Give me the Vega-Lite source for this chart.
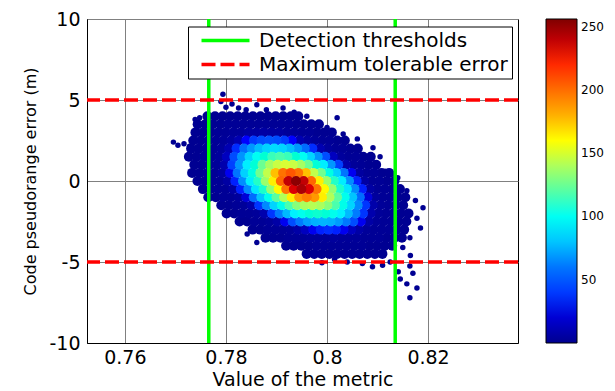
{
"$schema":"https://vega.github.io/schema/vega-lite/v6.json",
"width":431,"height":324,
"autosize":{"type":"none"},
"padding":{"left":87,"top":19,"right":97,"bottom":48},
"background":"white",
"config":{"font":"DejaVu Sans","view":{"stroke":"black","strokeWidth":1},
"axis":{"labelColor":"black","titleColor":"black","titleFontWeight":"normal","domainColor":"black","domainWidth":1,"ticks":false,"gridColor":"#808080","gridOpacity":1,"gridWidth":1,"zindex":1}},
"datasets":{
"outliers":[
{"x":0.7696,"y":2.4,"d":1},{"x":0.7705,"y":2.2,"d":1},{"x":0.7717,"y":2.3,"d":1},{"x":0.7728,"y":2.15,"d":1},{"x":0.7739,"y":3.8,"d":1},{"x":0.7745,"y":3.4,"d":1},{"x":0.7748,"y":3.9,"d":1},
{"x":0.7794,"y":5.35,"d":1},{"x":0.779,"y":4.9,"d":1},{"x":0.78,"y":4.55,"d":1},{"x":0.7812,"y":4.75,"d":1},{"x":0.7825,"y":4.5,"d":1},{"x":0.784,"y":4.4,"d":1},{"x":0.7861,"y":4.7,"d":1},{"x":0.788,"y":4.4,"d":1},{"x":0.7913,"y":4.5,"d":1},{"x":0.7935,"y":4.25,"d":1},{"x":0.796,"y":4.0,"d":1},
{"x":0.802,"y":3.9,"d":1},{"x":0.8,"y":3.3,"d":1},{"x":0.8032,"y":2.9,"d":1},{"x":0.806,"y":2.6,"d":1},{"x":0.8091,"y":2.05,"d":1},{"x":0.8105,"y":1.5,"d":1},{"x":0.8131,"y":0.43,"d":1},{"x":0.8115,"y":0.6,"d":1},{"x":0.814,"y":0.2,"d":1},{"x":0.8158,"y":-0.6,"d":1},{"x":0.8175,"y":-1.2,"d":1},{"x":0.819,"y":-1.65,"d":1},{"x":0.8178,"y":-2.3,"d":1},{"x":0.8185,"y":-2.9,"d":1},{"x":0.8164,"y":-3.5,"d":1},{"x":0.815,"y":-4.1,"d":1},{"x":0.8165,"y":-4.6,"d":1},
{"x":0.8164,"y":-5.25,"d":1},{"x":0.817,"y":-5.7,"d":1},{"x":0.8145,"y":-6.05,"d":1},{"x":0.8158,"y":-6.35,"d":1},{"x":0.8178,"y":-6.6,"d":1},{"x":0.8164,"y":-7.2,"d":1},{"x":0.8141,"y":-5.6,"d":1},
{"x":0.804,"y":-5.0,"d":1},{"x":0.807,"y":-5.1,"d":1},{"x":0.809,"y":-5.3,"d":1},{"x":0.811,"y":-5.2,"d":1},{"x":0.8125,"y":-5.0,"d":1},{"x":0.799,"y":-5.05,"d":1},{"x":0.8015,"y":-4.85,"d":1},
{"x":0.7861,"y":-3.8,"d":1},{"x":0.7842,"y":-3.27,"d":1},{"x":0.7881,"y":-3.3,"d":1},{"x":0.7921,"y":-3.7,"d":1},{"x":0.7941,"y":-3.75,"d":1},{"x":0.7812,"y":-1.55,"d":1},{"x":0.7835,"y":-2.3,"d":1},{"x":0.78,"y":-0.9,"d":1},{"x":0.7775,"y":-0.5,"d":1},{"x":0.777,"y":0.3,"d":1}
],
"cells":[
{"x":0.77633,"y":4,"d":1},{"x":0.77783,"y":4,"d":1},{"x":0.77933,"y":4,"d":1},{"x":0.78083,"y":4,"d":1},{"x":0.78233,"y":4,"d":1},{"x":0.78383,"y":4,"d":1},{"x":0.78533,"y":4,"d":1},{"x":0.78683,"y":4,"d":1},{"x":0.78833,"y":4,"d":1},{"x":0.78983,"y":4,"d":1},{"x":0.79133,"y":4,"d":1},{"x":0.79283,"y":4,"d":1},{"x":0.79433,"y":4,"d":1},
{"x":0.7744,"y":3.5,"d":1},{"x":0.7759,"y":3.5,"d":1},{"x":0.7774,"y":3.5,"d":1},{"x":0.7789,"y":3.5,"d":1},{"x":0.7804,"y":3.5,"d":2},{"x":0.7819,"y":3.5,"d":2},{"x":0.7834,"y":3.5,"d":2},{"x":0.7849,"y":3.5,"d":2},{"x":0.7864,"y":3.5,"d":2},{"x":0.7879,"y":3.5,"d":2},{"x":0.7894,"y":3.5,"d":2},{"x":0.7909,"y":3.5,"d":2},{"x":0.7924,"y":3.5,"d":2},{"x":0.7939,"y":3.5,"d":1},{"x":0.7954,"y":3.5,"d":1},{"x":0.7969,"y":3.5,"d":1},{"x":0.7984,"y":3.5,"d":1},
{"x":0.77396,"y":3,"d":1},{"x":0.77546,"y":3,"d":1},{"x":0.77696,"y":3,"d":1},{"x":0.77846,"y":3,"d":2},{"x":0.77996,"y":3,"d":2},{"x":0.78146,"y":3,"d":3},{"x":0.78296,"y":3,"d":3},{"x":0.78446,"y":3,"d":5},{"x":0.78596,"y":3,"d":5},{"x":0.78746,"y":3,"d":6},{"x":0.78896,"y":3,"d":5},{"x":0.79046,"y":3,"d":5},{"x":0.79196,"y":3,"d":3},{"x":0.79346,"y":3,"d":3},{"x":0.79496,"y":3,"d":2},{"x":0.79646,"y":3,"d":2},{"x":0.79796,"y":3,"d":1},{"x":0.79946,"y":3,"d":1},{"x":0.80096,"y":3,"d":1},
{"x":0.77353,"y":2.5,"d":1},{"x":0.77503,"y":2.5,"d":1},{"x":0.77653,"y":2.5,"d":2},{"x":0.77803,"y":2.5,"d":2},{"x":0.77953,"y":2.5,"d":3},{"x":0.78103,"y":2.5,"d":5},{"x":0.78253,"y":2.5,"d":10},{"x":0.78403,"y":2.5,"d":32},{"x":0.78553,"y":2.5,"d":40},{"x":0.78703,"y":2.5,"d":45},{"x":0.78853,"y":2.5,"d":47},{"x":0.79003,"y":2.5,"d":45},{"x":0.79153,"y":2.5,"d":40},{"x":0.79303,"y":2.5,"d":32},{"x":0.79453,"y":2.5,"d":10},{"x":0.79603,"y":2.5,"d":5},{"x":0.79753,"y":2.5,"d":3},{"x":0.79903,"y":2.5,"d":2},{"x":0.80053,"y":2.5,"d":2},{"x":0.80203,"y":2.5,"d":1},{"x":0.80353,"y":2.5,"d":1},
{"x":0.7731,"y":2,"d":1},{"x":0.7746,"y":2,"d":1},{"x":0.7761,"y":2,"d":2},{"x":0.7776,"y":2,"d":2},{"x":0.7791,"y":2,"d":4},{"x":0.7806,"y":2,"d":10},{"x":0.7821,"y":2,"d":37},{"x":0.7836,"y":2,"d":56},{"x":0.7851,"y":2,"d":69},{"x":0.7866,"y":2,"d":78},{"x":0.7881,"y":2,"d":84},{"x":0.7896,"y":2,"d":86},{"x":0.7911,"y":2,"d":84},{"x":0.7926,"y":2,"d":78},{"x":0.7941,"y":2,"d":69},{"x":0.7956,"y":2,"d":56},{"x":0.7971,"y":2,"d":37},{"x":0.7986,"y":2,"d":10},{"x":0.8001,"y":2,"d":4},{"x":0.8016,"y":2,"d":2},{"x":0.8031,"y":2,"d":2},{"x":0.8046,"y":2,"d":1},{"x":0.8061,"y":2,"d":1},
{"x":0.77266,"y":1.5,"d":1},{"x":0.77416,"y":1.5,"d":1},{"x":0.77566,"y":1.5,"d":2},{"x":0.77716,"y":1.5,"d":2},{"x":0.77866,"y":1.5,"d":4},{"x":0.78016,"y":1.5,"d":14},{"x":0.78166,"y":1.5,"d":45},{"x":0.78316,"y":1.5,"d":68},{"x":0.78466,"y":1.5,"d":84},{"x":0.78616,"y":1.5,"d":100},{"x":0.78766,"y":1.5,"d":109},{"x":0.78916,"y":1.5,"d":115},{"x":0.79066,"y":1.5,"d":118},{"x":0.79216,"y":1.5,"d":115},{"x":0.79366,"y":1.5,"d":109},{"x":0.79516,"y":1.5,"d":100},{"x":0.79666,"y":1.5,"d":84},{"x":0.79816,"y":1.5,"d":68},{"x":0.79966,"y":1.5,"d":45},{"x":0.80116,"y":1.5,"d":14},{"x":0.80266,"y":1.5,"d":4},{"x":0.80416,"y":1.5,"d":2},{"x":0.80566,"y":1.5,"d":2},{"x":0.80716,"y":1.5,"d":1},{"x":0.80866,"y":1.5,"d":1},
{"x":0.77373,"y":1,"d":1},{"x":0.77523,"y":1,"d":1},{"x":0.77673,"y":1,"d":2},{"x":0.77823,"y":1,"d":3},{"x":0.77973,"y":1,"d":9},{"x":0.78123,"y":1,"d":42},{"x":0.78273,"y":1,"d":69},{"x":0.78423,"y":1,"d":91},{"x":0.78573,"y":1,"d":108},{"x":0.78723,"y":1,"d":124},{"x":0.78873,"y":1,"d":138},{"x":0.79023,"y":1,"d":147},{"x":0.79173,"y":1,"d":151},{"x":0.79323,"y":1,"d":147},{"x":0.79473,"y":1,"d":138},{"x":0.79623,"y":1,"d":124},{"x":0.79773,"y":1,"d":108},{"x":0.79923,"y":1,"d":91},{"x":0.80073,"y":1,"d":69},{"x":0.80223,"y":1,"d":42},{"x":0.80373,"y":1,"d":9},{"x":0.80523,"y":1,"d":3},{"x":0.80673,"y":1,"d":2},{"x":0.80823,"y":1,"d":1},{"x":0.80973,"y":1,"d":1},
{"x":0.7733,"y":0.5,"d":1},{"x":0.7748,"y":0.5,"d":1},{"x":0.7763,"y":0.5,"d":2},{"x":0.7778,"y":0.5,"d":2},{"x":0.7793,"y":0.5,"d":5},{"x":0.7808,"y":0.5,"d":28},{"x":0.7823,"y":0.5,"d":59},{"x":0.7838,"y":0.5,"d":83},{"x":0.7853,"y":0.5,"d":105},{"x":0.7868,"y":0.5,"d":125},{"x":0.7883,"y":0.5,"d":145},{"x":0.7898,"y":0.5,"d":176},{"x":0.7913,"y":0.5,"d":198},{"x":0.7928,"y":0.5,"d":209},{"x":0.7943,"y":0.5,"d":198},{"x":0.7958,"y":0.5,"d":176},{"x":0.7973,"y":0.5,"d":145},{"x":0.7988,"y":0.5,"d":125},{"x":0.8003,"y":0.5,"d":105},{"x":0.8018,"y":0.5,"d":83},{"x":0.8033,"y":0.5,"d":59},{"x":0.8048,"y":0.5,"d":28},{"x":0.8063,"y":0.5,"d":5},{"x":0.8078,"y":0.5,"d":2},{"x":0.8093,"y":0.5,"d":2},{"x":0.8108,"y":0.5,"d":1},{"x":0.8123,"y":0.5,"d":1},
{"x":0.77436,"y":0,"d":1},{"x":0.77586,"y":0,"d":1},{"x":0.77736,"y":0,"d":2},{"x":0.77886,"y":0,"d":2},{"x":0.78036,"y":0,"d":6},{"x":0.78186,"y":0,"d":35},{"x":0.78336,"y":0,"d":67},{"x":0.78486,"y":0,"d":91},{"x":0.78636,"y":0,"d":112},{"x":0.78786,"y":0,"d":135},{"x":0.78936,"y":0,"d":164},{"x":0.79086,"y":0,"d":203},{"x":0.79236,"y":0,"d":239},{"x":0.79386,"y":0,"d":253},{"x":0.79536,"y":0,"d":239},{"x":0.79686,"y":0,"d":203},{"x":0.79836,"y":0,"d":164},{"x":0.79986,"y":0,"d":135},{"x":0.80136,"y":0,"d":112},{"x":0.80286,"y":0,"d":91},{"x":0.80436,"y":0,"d":67},{"x":0.80586,"y":0,"d":35},{"x":0.80736,"y":0,"d":6},{"x":0.80886,"y":0,"d":2},{"x":0.81036,"y":0,"d":2},{"x":0.81186,"y":0,"d":1},{"x":0.81336,"y":0,"d":1},
{"x":0.77543,"y":-0.5,"d":1},{"x":0.77693,"y":-0.5,"d":1},{"x":0.77843,"y":-0.5,"d":2},{"x":0.77993,"y":-0.5,"d":2},{"x":0.78143,"y":-0.5,"d":6},{"x":0.78293,"y":-0.5,"d":35},{"x":0.78443,"y":-0.5,"d":66},{"x":0.78593,"y":-0.5,"d":89},{"x":0.78743,"y":-0.5,"d":111},{"x":0.78893,"y":-0.5,"d":133},{"x":0.79043,"y":-0.5,"d":161},{"x":0.79193,"y":-0.5,"d":198},{"x":0.79343,"y":-0.5,"d":233},{"x":0.79493,"y":-0.5,"d":245},{"x":0.79643,"y":-0.5,"d":233},{"x":0.79793,"y":-0.5,"d":198},{"x":0.79943,"y":-0.5,"d":161},{"x":0.80093,"y":-0.5,"d":133},{"x":0.80243,"y":-0.5,"d":111},{"x":0.80393,"y":-0.5,"d":89},{"x":0.80543,"y":-0.5,"d":66},{"x":0.80693,"y":-0.5,"d":35},{"x":0.80843,"y":-0.5,"d":6},{"x":0.80993,"y":-0.5,"d":2},{"x":0.81143,"y":-0.5,"d":2},{"x":0.81293,"y":-0.5,"d":1},{"x":0.81443,"y":-0.5,"d":1},
{"x":0.7765,"y":-1,"d":1},{"x":0.778,"y":-1,"d":1},{"x":0.7795,"y":-1,"d":2},{"x":0.781,"y":-1,"d":2},{"x":0.7825,"y":-1,"d":4},{"x":0.784,"y":-1,"d":21},{"x":0.7855,"y":-1,"d":56},{"x":0.787,"y":-1,"d":80},{"x":0.7885,"y":-1,"d":102},{"x":0.79,"y":-1,"d":121},{"x":0.7915,"y":-1,"d":141},{"x":0.793,"y":-1,"d":164},{"x":0.7945,"y":-1,"d":186},{"x":0.796,"y":-1,"d":193},{"x":0.7975,"y":-1,"d":186},{"x":0.799,"y":-1,"d":164},{"x":0.8005,"y":-1,"d":141},{"x":0.802,"y":-1,"d":121},{"x":0.8035,"y":-1,"d":102},{"x":0.805,"y":-1,"d":80},{"x":0.8065,"y":-1,"d":56},{"x":0.808,"y":-1,"d":21},{"x":0.8095,"y":-1,"d":4},{"x":0.811,"y":-1,"d":2},{"x":0.8125,"y":-1,"d":2},{"x":0.814,"y":-1,"d":1},{"x":0.8155,"y":-1,"d":1},
{"x":0.77907,"y":-1.5,"d":1},{"x":0.78057,"y":-1.5,"d":1},{"x":0.78207,"y":-1.5,"d":2},{"x":0.78357,"y":-1.5,"d":3},{"x":0.78507,"y":-1.5,"d":8},{"x":0.78657,"y":-1.5,"d":39},{"x":0.78807,"y":-1.5,"d":66},{"x":0.78957,"y":-1.5,"d":84},{"x":0.79107,"y":-1.5,"d":103},{"x":0.79257,"y":-1.5,"d":118},{"x":0.79407,"y":-1.5,"d":130},{"x":0.79557,"y":-1.5,"d":139},{"x":0.79707,"y":-1.5,"d":142},{"x":0.79857,"y":-1.5,"d":139},{"x":0.80007,"y":-1.5,"d":130},{"x":0.80157,"y":-1.5,"d":118},{"x":0.80307,"y":-1.5,"d":103},{"x":0.80457,"y":-1.5,"d":84},{"x":0.80607,"y":-1.5,"d":66},{"x":0.80757,"y":-1.5,"d":39},{"x":0.80907,"y":-1.5,"d":8},{"x":0.81057,"y":-1.5,"d":3},{"x":0.81207,"y":-1.5,"d":2},{"x":0.81357,"y":-1.5,"d":1},{"x":0.81507,"y":-1.5,"d":1},
{"x":0.78013,"y":-2,"d":1},{"x":0.78163,"y":-2,"d":1},{"x":0.78313,"y":-2,"d":2},{"x":0.78463,"y":-2,"d":2},{"x":0.78613,"y":-2,"d":3},{"x":0.78763,"y":-2,"d":9},{"x":0.78913,"y":-2,"d":39},{"x":0.79063,"y":-2,"d":62},{"x":0.79213,"y":-2,"d":77},{"x":0.79363,"y":-2,"d":92},{"x":0.79513,"y":-2,"d":102},{"x":0.79663,"y":-2,"d":108},{"x":0.79813,"y":-2,"d":110},{"x":0.79963,"y":-2,"d":108},{"x":0.80113,"y":-2,"d":102},{"x":0.80263,"y":-2,"d":92},{"x":0.80413,"y":-2,"d":77},{"x":0.80563,"y":-2,"d":62},{"x":0.80713,"y":-2,"d":39},{"x":0.80863,"y":-2,"d":9},{"x":0.81013,"y":-2,"d":3},{"x":0.81163,"y":-2,"d":2},{"x":0.81313,"y":-2,"d":2},{"x":0.81463,"y":-2,"d":1},{"x":0.81613,"y":-2,"d":1},
{"x":0.7827,"y":-2.5,"d":1},{"x":0.7842,"y":-2.5,"d":1},{"x":0.7857,"y":-2.5,"d":2},{"x":0.7872,"y":-2.5,"d":2},{"x":0.7887,"y":-2.5,"d":3},{"x":0.7902,"y":-2.5,"d":7},{"x":0.7917,"y":-2.5,"d":28},{"x":0.7932,"y":-2.5,"d":45},{"x":0.7947,"y":-2.5,"d":61},{"x":0.7962,"y":-2.5,"d":70},{"x":0.7977,"y":-2.5,"d":75},{"x":0.7992,"y":-2.5,"d":76},{"x":0.8007,"y":-2.5,"d":75},{"x":0.8022,"y":-2.5,"d":70},{"x":0.8037,"y":-2.5,"d":61},{"x":0.8052,"y":-2.5,"d":45},{"x":0.8067,"y":-2.5,"d":28},{"x":0.8082,"y":-2.5,"d":7},{"x":0.8097,"y":-2.5,"d":3},{"x":0.8112,"y":-2.5,"d":2},{"x":0.8127,"y":-2.5,"d":2},{"x":0.8142,"y":-2.5,"d":1},{"x":0.8157,"y":-2.5,"d":1},
{"x":0.78527,"y":-3,"d":1},{"x":0.78677,"y":-3,"d":1},{"x":0.78827,"y":-3,"d":2},{"x":0.78977,"y":-3,"d":2},{"x":0.79127,"y":-3,"d":2},{"x":0.79277,"y":-3,"d":3},{"x":0.79427,"y":-3,"d":7},{"x":0.79577,"y":-3,"d":14},{"x":0.79727,"y":-3,"d":28},{"x":0.79877,"y":-3,"d":35},{"x":0.80027,"y":-3,"d":37},{"x":0.80177,"y":-3,"d":35},{"x":0.80327,"y":-3,"d":28},{"x":0.80477,"y":-3,"d":14},{"x":0.80627,"y":-3,"d":7},{"x":0.80777,"y":-3,"d":3},{"x":0.80927,"y":-3,"d":2},{"x":0.81077,"y":-3,"d":2},{"x":0.81227,"y":-3,"d":2},{"x":0.81377,"y":-3,"d":1},{"x":0.81527,"y":-3,"d":1},
{"x":0.78783,"y":-3.5,"d":1},{"x":0.78933,"y":-3.5,"d":1},{"x":0.79083,"y":-3.5,"d":1},{"x":0.79233,"y":-3.5,"d":2},{"x":0.79383,"y":-3.5,"d":2},{"x":0.79533,"y":-3.5,"d":2},{"x":0.79683,"y":-3.5,"d":3},{"x":0.79833,"y":-3.5,"d":3},{"x":0.79983,"y":-3.5,"d":3},{"x":0.80133,"y":-3.5,"d":4},{"x":0.80283,"y":-3.5,"d":3},{"x":0.80433,"y":-3.5,"d":3},{"x":0.80583,"y":-3.5,"d":3},{"x":0.80733,"y":-3.5,"d":2},{"x":0.80883,"y":-3.5,"d":2},{"x":0.81033,"y":-3.5,"d":2},{"x":0.81183,"y":-3.5,"d":1},{"x":0.81333,"y":-3.5,"d":1},{"x":0.81483,"y":-3.5,"d":1},
{"x":0.7919,"y":-4,"d":1},{"x":0.7934,"y":-4,"d":1},{"x":0.7949,"y":-4,"d":1},{"x":0.7964,"y":-4,"d":1},{"x":0.7979,"y":-4,"d":2},{"x":0.7994,"y":-4,"d":2},{"x":0.8009,"y":-4,"d":2},{"x":0.8024,"y":-4,"d":2},{"x":0.8039,"y":-4,"d":2},{"x":0.8054,"y":-4,"d":2},{"x":0.8069,"y":-4,"d":2},{"x":0.8084,"y":-4,"d":1},{"x":0.8099,"y":-4,"d":1},{"x":0.8114,"y":-4,"d":1},{"x":0.8129,"y":-4,"d":1},
{"x":0.79597,"y":-4.5,"d":1},{"x":0.79747,"y":-4.5,"d":1},{"x":0.79897,"y":-4.5,"d":1},{"x":0.80047,"y":-4.5,"d":1},{"x":0.80197,"y":-4.5,"d":1},{"x":0.80347,"y":-4.5,"d":1},{"x":0.80497,"y":-4.5,"d":1},{"x":0.80647,"y":-4.5,"d":1},{"x":0.80797,"y":-4.5,"d":1},{"x":0.80947,"y":-4.5,"d":1},{"x":0.81097,"y":-4.5,"d":1}
],
"vlines":[{"x":0.7766,"k":"Detection thresholds"},{"x":0.8135,"k":"Detection thresholds"}],
"hlines":[{"y":5,"k":"Maximum tolerable error"},{"y":-5,"k":"Maximum tolerable error"}]
},
"layer":[
{"data":{"name":"outliers"},
 "mark":{"type":"point","filled":true,"size":30,"opacity":1,"strokeWidth":0},
 "encoding":{
  "x":{"field":"x","type":"quantitative","scale":{"domain":[0.7525,0.8378],"zero":false,"nice":false},
   "axis":{"title":"Value of the metric","values":[0.76,0.78,0.8,0.82],"format":"~g","labelFontSize":19,"titleFontSize":19,"labelPadding":5,"titleBaseline":"alphabetic","titleY":42,"grid":true}},
  "y":{"field":"y","type":"quantitative","scale":{"domain":[-10,10],"zero":false,"nice":false},
   "axis":{"title":"Code pseudorange error (m)","values":[-10,-5,0,5,10],"labelExpr":"'' + datum.value","labelFontSize":19,"titleFontSize":16,"labelPadding":7,"titleX":-52,"titleY":162,"titleAlign":"center","titleBaseline":"alphabetic","titleAngle":270,"grid":true}},
  "color":{"field":"d","type":"quantitative",
   "scale":{"domain":[0,256],"range":["#00008f","#0000ff","#0080ff","#00ffff","#80ff80","#ffff00","#ff8000","#ff0000","#800000"]},
   "legend":{"orient":"none","legendX":459,"legendY":0,"direction":"vertical","title":null,"gradientLength":324,"gradientThickness":31,"gradientStrokeColor":"black","gradientStrokeWidth":1,"values":[50,100,150,200,250],"labelFontSize":12,"labelOffset":4,"labelColor":"black"}}
 }},
{"data":{"name":"cells"},
 "mark":{"type":"point","filled":true,"size":100,"opacity":1,"strokeWidth":0},
 "encoding":{
  "x":{"field":"x","type":"quantitative","scale":{"domain":[0.7525,0.8378],"zero":false,"nice":false}},
  "y":{"field":"y","type":"quantitative","scale":{"domain":[-10,10],"zero":false,"nice":false}},
  "color":{"field":"d","type":"quantitative","scale":{"domain":[0,256]}},
  "order":{"field":"d","type":"quantitative"}
 }},
{"data":{"name":"vlines"},
 "mark":{"type":"rule","strokeWidth":3.5},
 "encoding":{
  "x":{"field":"x","type":"quantitative","scale":{"domain":[0.7525,0.8378],"zero":false,"nice":false}},
  "stroke":{"field":"k","type":"nominal","scale":{"domain":["Detection thresholds","Maximum tolerable error"],"range":["#00ff00","#ff0000"]},
   "legend":{"orient":"none","legendX":101,"legendY":7.5,"title":null,"symbolType":"M-4,0L4,0","symbolSize":144,"symbolStrokeWidth":3.5,"labelFontSize":20,"labelLimit":400,"labelColor":"black","fillColor":"white","strokeColor":"black","padding":4,"symbolOffset":23.5,"labelOffset":23.5,"rowPadding":4}},
  "strokeDash":{"field":"k","type":"nominal","scale":{"domain":["Detection thresholds","Maximum tolerable error"],"range":[[1,0],[14,5]]},
   "legend":{"orient":"none","legendX":101,"legendY":7.5,"title":null,"symbolType":"M-4,0L4,0","symbolSize":144,"symbolStrokeWidth":3.5,"labelFontSize":20,"labelLimit":400,"labelColor":"black","fillColor":"white","strokeColor":"black","padding":4,"symbolOffset":23.5,"labelOffset":23.5,"rowPadding":4}}
 }},
{"data":{"name":"hlines"},
 "mark":{"type":"rule","strokeWidth":3.5},
 "encoding":{
  "y":{"field":"y","type":"quantitative","scale":{"domain":[-10,10],"zero":false,"nice":false}},
  "stroke":{"field":"k","type":"nominal"},
  "strokeDash":{"field":"k","type":"nominal"}
 }}
]
}
